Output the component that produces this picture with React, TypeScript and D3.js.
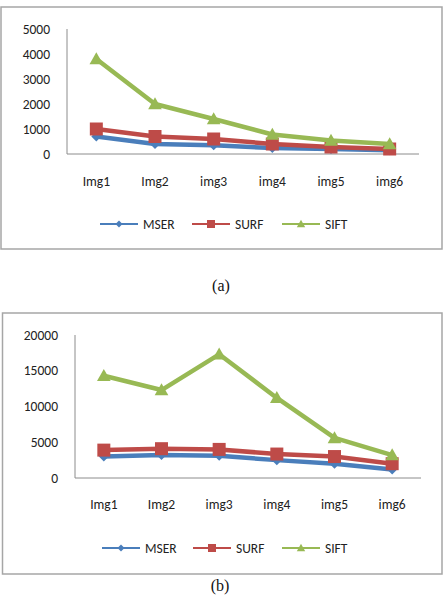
import React from "react";
import { scaleBand, scaleLinear, line } from "d3";

// categories and series
const categories = ["Img1", "Img2", "img3", "img4", "img5", "img6"];
const seriesNames = ["MSER", "SURF", "SIFT"];

const msenA = [700, 400, 350, 240, 200, 150];
const surfA = [1000, 700, 600, 400, 280, 200];
const siftA = [3800, 2000, 1400, 780, 540, 400];
const ticksA = [0, 1000, 2000, 3000, 4000, 5000];

const mserB = [3000, 3200, 3100, 2500, 2000, 1200];
const surfB = [3900, 4100, 4000, 3350, 3000, 2000];
const siftB = [14300, 12300, 17300, 11200, 5600, 3200];
const ticksB = [0, 5000, 10000, 15000, 20000];

const colors = ["#4A7EBB", "#BE4B48", "#98B954"];
const FONT = "Carlito, Lato, 'Open Sans', sans-serif";
const FS = 13.5;

type Shape = "diamond" | "square" | "triangle";
const shapes: Shape[] = ["diamond", "square", "triangle"];

function markerPath(shape: Shape, x: number, y: number, s: number) {
  const h = s / 2;
  if (shape === "diamond")
    return `M${x},${y - h}L${x + h},${y}L${x},${y + h}L${x - h},${y}Z`;
  if (shape === "square")
    return `M${x - h},${y - h}h${s}v${s}h${-s}Z`;
  return `M${x},${y - h * 1.05}L${x + h * 1.05},${y + h * 0.8}L${x - h * 1.05},${y + h * 0.8}Z`;
}

function Panel({
  frame,
  plot,
  series,
  ticks,
  labelY,
  legendY,
  legendX,
  caption,
}: {
  frame: { x: number; y: number; w: number; h: number };
  plot: { x0: number; x1: number; y0: number; y1: number };
  series: number[][];
  ticks: number[];
  labelY: number;
  legendY: number;
  legendX: number[];
  caption: { text: string; x: number; y: number };
}) {
  const x = scaleBand<string>().domain(categories).range([plot.x0, plot.x1]);
  const y = scaleLinear()
    .domain([0, ticks[ticks.length - 1]])
    .range([plot.y1, plot.y0]);
  const cx = (c: string) => (x(c) ?? 0) + x.bandwidth() / 2;
  const path = line<number>()
    .x((_, i) => cx(categories[i]))
    .y((d) => y(d));
  const markerSize = [10, 13, 13];

  return (
    <g>
      <rect
        x={frame.x}
        y={frame.y}
        width={frame.w}
        height={frame.h}
        fill="white"
        stroke="#A6A6A6"
        strokeWidth={1.5}
      />
      {/* axes */}
      <line x1={plot.x0} x2={plot.x0} y1={plot.y0} y2={plot.y1} stroke="#8C8C8C" strokeWidth={1} />
      <line x1={plot.x0} x2={plot.x1} y1={plot.y1} y2={plot.y1} stroke="#8C8C8C" strokeWidth={1} />
      {ticks.map((t) => (
        <text
          key={t}
          x={plot.x0 - 17}
          y={y(t)}
          dy="0.35em"
          textAnchor="end"
          fontSize={FS}
          fontFamily={FONT}
          fill="#222"
        >
          {t}
        </text>
      ))}
      {categories.map((c) => (
        <text
          key={c}
          x={cx(c)}
          y={labelY}
          dy="0.35em"
          textAnchor="middle"
          fontSize={FS}
          fontFamily={FONT}
          fill="#222"
        >
          {c}
        </text>
      ))}

      {series.map((s, k) => (
        <g key={k}>
          <path
            d={path(s) ?? ""}
            fill="none"
            stroke={colors[k]}
            strokeWidth={4.5}
            strokeLinejoin="round"
          />
          {s.map((v, i) => (
            <path
              key={i}
              d={markerPath(shapes[k], cx(categories[i]), y(v), markerSize[k])}
              fill={colors[k]}
            />
          ))}
        </g>
      ))}

      {/* legend */}
      {seriesNames.map((n, k) => (
        <g key={n}>
          <line
            x1={legendX[k]}
            x2={legendX[k] + 38}
            y1={legendY}
            y2={legendY}
            stroke={colors[k]}
            strokeWidth={2}
          />
          <path
            d={markerPath(shapes[k], legendX[k] + 19, legendY, k === 0 ? 7 : 8)}
            fill={colors[k]}
          />
          <text
            x={legendX[k] + 43}
            y={legendY}
            dy="0.35em"
            fontSize={FS}
            fontFamily={FONT}
            fill="#222"
          >
            {n}
          </text>
        </g>
      ))}

      <text
        x={caption.x}
        y={caption.y}
        dy="0.35em"
        textAnchor="middle"
        fontSize={16}
        fontFamily="'Liberation Serif', 'Times New Roman', serif"
        fill="#111"
      >
        {caption.text}
      </text>
    </g>
  );
}

export default function App() {
  return (
    <svg
      width={447}
      height={595}
      style={{ position: "absolute", left: 0, top: 0, background: "white" }}
    >
      <Panel
        frame={{ x: 1, y: 7, w: 441, h: 242 }}
        plot={{ x0: 67, x1: 419, y0: 29, y1: 154 }}
        series={[msenA, surfA, siftA]}
        ticks={ticksA}
        labelY={181}
        legendY={224}
        legendX={[100, 192, 282]}
        caption={{ text: "(a)", x: 221, y: 285 }}
      />
      <Panel
        frame={{ x: 2.5, y: 313, w: 439.5, h: 261 }}
        plot={{ x0: 75, x1: 421, y0: 335, y1: 478 }}
        series={[mserB, surfB, siftB]}
        ticks={ticksB}
        labelY={504}
        legendY={548}
        legendX={[102, 193, 282]}
        caption={{ text: "(b)", x: 220, y: 585 }}
      />
    </svg>
  );
}
